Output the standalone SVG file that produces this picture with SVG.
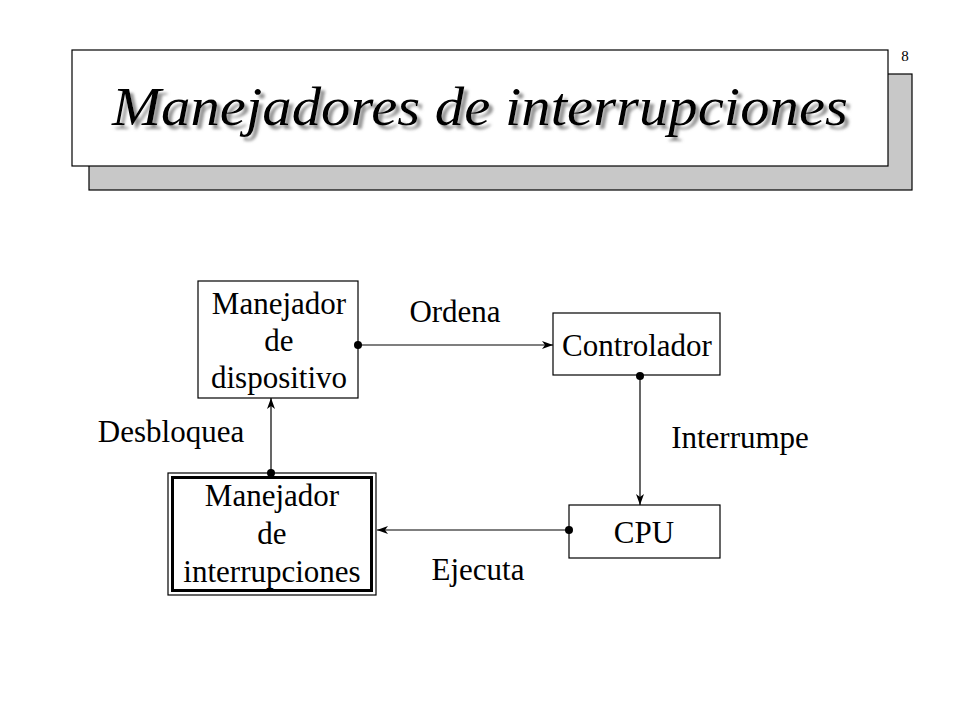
<svg xmlns="http://www.w3.org/2000/svg" width="960" height="720" viewBox="0 0 960 720">
<defs>
<style>
.t{font-family:"Liberation Serif","Times New Roman",serif;font-size:31px;fill:#000;text-anchor:middle}
.ti{font-family:"Liberation Serif","Times New Roman",serif;font-style:italic;font-size:55px;text-anchor:middle}
.box{fill:#fff;stroke:#000;stroke-width:1.2}
.ln{stroke:#000;stroke-width:1.2;fill:none}
.dot{fill:#000}
</style>
<filter id="shadow" x="-5%" y="-30%" width="110%" height="160%">
<feDropShadow dx="4" dy="4" stdDeviation="1.5" flood-color="#777" flood-opacity="0.8"/>
</filter>
<marker id="ah" markerWidth="12" markerHeight="8" refX="11" refY="4" orient="auto" markerUnits="userSpaceOnUse">
<path d="M0,0 L11,4 L0,8 L3,4 Z" fill="#000"/>
</marker>
</defs>
<rect width="960" height="720" fill="#fff"/>
<g id="title">
<rect x="89" y="74" width="823" height="116" fill="#c8c8c8" stroke="#000" stroke-width="1.2"/>
<rect x="72" y="50" width="816" height="116" fill="#fff" stroke="#000" stroke-width="1.2"/>
<text class="ti" x="480" y="125" fill="#000" filter="url(#shadow)" textLength="736" lengthAdjust="spacingAndGlyphs">Manejadores de interrupciones</text>
<text x="905" y="61" font-family="Liberation Serif,Times New Roman,serif" font-size="15" text-anchor="middle">8</text>
</g>
<g id="manejador-dispositivo">
<rect class="box" x="198" y="281" width="160" height="117"/>
<text class="t" x="279" y="314">Manejador</text>
<text class="t" x="279" y="351">de</text>
<text class="t" x="279" y="388">dispositivo</text>
</g>
<g id="controlador">
<rect class="box" x="553" y="313" width="167" height="62"/>
<text class="t" x="637" y="356">Controlador</text>
</g>
<g id="cpu">
<rect class="box" x="569" y="505" width="151" height="53"/>
<text class="t" x="644" y="543">CPU</text>
</g>
<g id="manejador-interrupciones">
<rect x="168" y="473" width="208" height="122" fill="#fff" stroke="#000" stroke-width="1.2"/>
<rect x="172.5" y="477.5" width="199" height="113" fill="none" stroke="#000" stroke-width="3"/>
<text class="t" x="272" y="506">Manejador</text>
<text class="t" x="272" y="544">de</text>
<text class="t" x="272" y="582">interrupciones</text>
</g>
<g id="connectors">
<line class="ln" x1="358" y1="345" x2="553" y2="345" marker-end="url(#ah)"/>
<circle class="dot" cx="358" cy="345" r="4"/>
<text class="t" x="455" y="322">Ordena</text>
<line class="ln" x1="640" y1="376" x2="640" y2="505" marker-end="url(#ah)"/>
<circle class="dot" cx="640" cy="376" r="4"/>
<text class="t" x="740" y="448">Interrumpe</text>
<line class="ln" x1="569" y1="530" x2="377" y2="530" marker-end="url(#ah)"/>
<circle class="dot" cx="569" cy="530" r="4"/>
<text class="t" x="478" y="580">Ejecuta</text>
<line class="ln" x1="271" y1="473" x2="271" y2="398" marker-end="url(#ah)"/>
<circle class="dot" cx="271" cy="473" r="4"/>
<text class="t" x="171" y="442">Desbloquea</text>
</g>
</svg>
